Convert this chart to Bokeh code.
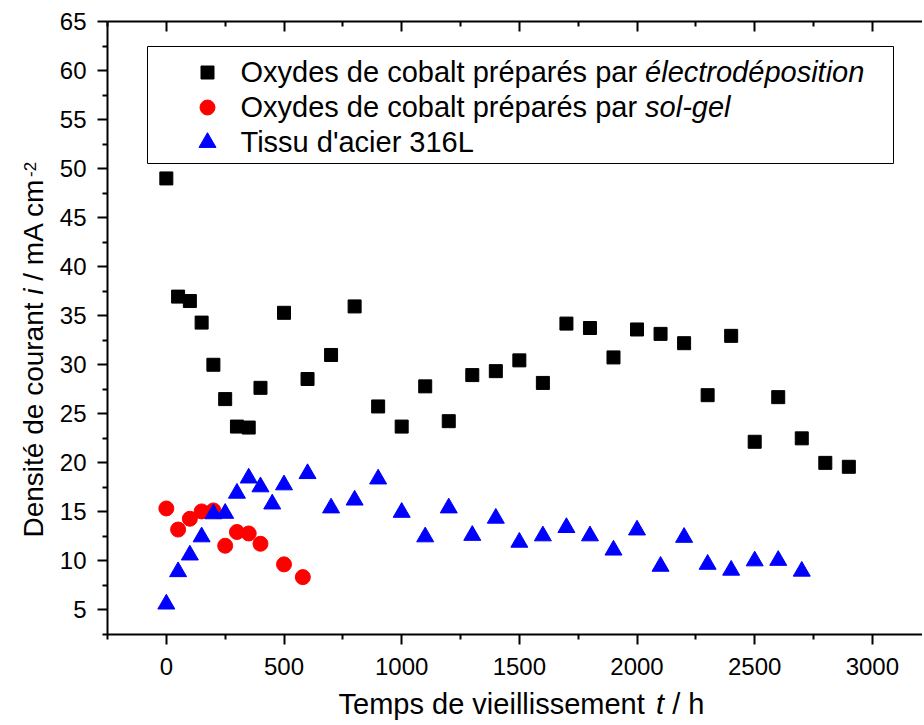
import math
from bokeh.plotting import figure
from bokeh.models import Range1d, LinearAxis, FixedTicker, Label, BoxAnnotation, CustomJSTickFormatter
from bokeh.layouts import column, row
from bokeh.embed import file_html
from bokeh.resources import INLINE

# ---------------- data ----------------
t_electro = [0, 50, 100, 150, 200, 250, 300, 350, 400, 500, 600, 700, 800, 900, 1000,
             1100, 1200, 1300, 1400, 1500, 1600, 1700, 1800, 1900, 2000, 2100, 2200,
             2300, 2400, 2500, 2600, 2700, 2800, 2900]
i_electro = [49.0, 36.95, 36.5, 34.3, 30.0, 26.5, 23.7, 23.6, 27.65, 35.3, 28.55, 31.0,
             35.95, 25.75, 23.7, 27.8, 24.25, 28.95, 29.35, 30.45, 28.15, 34.2, 33.75,
             30.75, 33.6, 33.15, 32.2, 26.9, 32.95, 22.15, 26.7, 22.5, 20.0, 19.6]

t_solgel = [0, 50, 100, 150, 200, 250, 300, 350, 400, 500, 580]
i_solgel = [15.35, 13.2, 14.3, 15.05, 15.15, 11.55, 12.95, 12.8, 11.75, 9.65, 8.35]

t_acier = [0, 50, 100, 150, 200, 250, 300, 350, 400, 450, 500, 600, 700, 800, 900, 1000,
           1100, 1200, 1300, 1400, 1500, 1600, 1700, 1800, 1900, 2000, 2100, 2200, 2300,
           2400, 2500, 2600, 2700]
i_acier = [5.6, 8.9, 10.6, 12.45, 14.8, 14.85, 16.9, 18.45, 17.55, 15.8, 17.75, 18.9,
           15.4, 16.2, 18.35, 14.95, 12.45, 15.4, 12.6, 14.35, 11.9, 12.55, 13.4, 12.55,
           11.1, 13.15, 9.45, 12.4, 9.65, 9.05, 10.0, 10.05, 8.95]

x_ticks = [0, 500, 1000, 1500, 2000, 2500, 3000]
x_minor = [-250, 250, 750, 1250, 1750, 2250, 2750]
y_ticks = [5, 10, 15, 20, 25, 30, 35, 40, 45, 50, 55, 60, 65]
y_minor = [2.5, 7.5, 12.5, 17.5, 22.5, 27.5, 32.5, 37.5, 42.5, 47.5, 52.5, 57.5, 62.5]

legend_parts = [
    ("Oxydes de cobalt préparés par ", "électrodéposition"),
    ("Oxydes de cobalt préparés par ", "sol-gel"),
    ("Tissu d'acier 316L", ""),
]
x_title = [("Temps de vieillissement ", "normal"), ("t", "italic"), (" / h", "normal")]
y_title = [("Densité de courant ", "normal"), ("i", "italic"), (" / mA cm", "normal")]
y_title_sup = "-2"

# ---------------- layout (page pixels) ----------------
FONT = "Liberation Sans"
TOTAL_W, TOTAL_H = 922, 723
YL_W = 50
PH = 682
FR_L, FR_T, FR_B = 107, 21, 634
FR_R = TOTAL_W
X0, X1 = -250, 3213
Y0, Y1 = 2.5, 65

CW = {' ': 278, '/': 278, '-': 333, "'": 191, '1': 556, '2': 556, '3': 556, '6': 556,
      'A': 667, 'D': 722, 'L': 556, 'O': 778, 'T': 611, 'a': 556, 'b': 556, 'c': 500,
      'd': 556, 'e': 556, 'é': 556, 'g': 556, 'h': 556, 'i': 222, 'l': 222, 'm': 833,
      'n': 556, 'o': 556, 'p': 556, 'r': 333, 's': 500, 't': 278, 'u': 556, 'v': 500,
      'x': 500, 'y': 500}


def tw(s, size):
    return sum(CW.get(c, 556) for c in s) / 1000.0 * size


def lead_w(s, size):
    return tw(" " * (len(s) - len(s.lstrip(" "))), size)


def xd(px):
    return X0 + (px - FR_L) / (FR_R - FR_L) * (X1 - X0)


def yd(py):
    return Y1 - (py - FR_T) / (FR_B - FR_T) * (Y1 - Y0)


y_range = Range1d(Y0, Y1)
p = figure(width=TOTAL_W - YL_W, height=PH, output_backend="svg", toolbar_location=None,
           x_range=Range1d(X0, X1), y_range=y_range,
           min_border_left=FR_L - YL_W, min_border_right=0,
           min_border_top=FR_T, min_border_bottom=PH - FR_B)
p.grid.visible = False
p.outline_line_color = None
p.background_fill_color = "white"
p.border_fill_color = "white"


def style_axis(ax, ticks, minor, outside, labels, standoff=8):
    ax.ticker = FixedTicker(ticks=ticks, minor_ticks=minor)
    ax.axis_line_width = 2
    ax.axis_line_color = "black"
    ax.major_tick_line_width = 2
    ax.minor_tick_line_width = 2
    ax.major_tick_line_color = "black"
    ax.minor_tick_line_color = "black"
    if outside:
        ax.major_tick_out, ax.major_tick_in = 10, 0
        ax.minor_tick_out, ax.minor_tick_in = 5, 0
    else:
        ax.major_tick_out, ax.major_tick_in = 0, 10
        ax.minor_tick_out, ax.minor_tick_in = 0, 5
    if labels:
        ax.major_label_text_font = FONT
        ax.major_label_text_font_size = "24px"
        ax.major_label_text_color = "black"
        ax.major_label_standoff = standoff
    else:
        ax.formatter = CustomJSTickFormatter(code="return ''")
        ax.major_label_text_font_size = "10px"
        ax.major_label_standoff = 0
    ax.axis_label = None


style_axis(p.xaxis[0], x_ticks, x_minor, True, True, standoff=13)
style_axis(p.yaxis[0], y_ticks, y_minor, True, True, standoff=11)
top_ax = LinearAxis()
style_axis(top_ax, x_ticks, x_minor, False, False)
p.add_layout(top_ax, "above")

# ---------------- data marks ----------------
p.scatter(t_electro, i_electro, marker="square", size=13, color="black")
p.scatter(t_solgel, i_solgel, marker="circle", size=15, color="red")
p.scatter(t_acier, i_acier, marker="triangle", size=17, color="blue")

# ---------------- legend ----------------
p.add_layout(BoxAnnotation(left=xd(147), right=xd(893), top=yd(46), bottom=yd(163),
                           fill_color=None, fill_alpha=0, line_color="black",
                           line_width=1, line_alpha=1))
LEG_SIZE = 29
markers = [("square", 13, "black"), ("circle", 15, "red"), ("triangle", 17, "blue")]
for k, ((normal, ital), (mk, sz, col)) in enumerate(zip(legend_parts, markers)):
    cy = 72 + 35 * k
    p.scatter([xd(207)], [yd(cy)], marker=mk, size=sz, color=col)
    p.add_layout(Label(x=xd(240), y=yd(cy - 1), text=normal.strip(), text_font=FONT,
                       text_font_size=f"{LEG_SIZE}px", text_baseline="middle",
                       text_align="left", text_color="black"))
    if ital:
        p.add_layout(Label(x=xd(240 + tw(normal, LEG_SIZE)), y=yd(cy - 1), text=ital,
                           text_font=FONT, text_font_style="italic",
                           text_font_size=f"{LEG_SIZE}px", text_baseline="middle",
                           text_align="left", text_color="black"))


def strip(w, h, yr):
    f = figure(width=w, height=h, output_backend="svg", toolbar_location=None,
               x_range=Range1d(0, w), y_range=yr,
               x_axis_location=None, y_axis_location=None,
               min_border_left=0, min_border_right=0, min_border_top=0, min_border_bottom=0)
    f.grid.visible = False
    f.outline_line_color = None
    f.background_fill_color = "white"
    f.border_fill_color = "white"
    return f


# ---------------- x axis title (strip below) ----------------
XLAB = 29
XL_H = TOTAL_H - PH
xl = strip(TOTAL_W, XL_H, Range1d(0, XL_H))
total = sum(tw(s, XLAB) for s, _ in x_title)
xs = 521 - total / 2
mid_y = TOTAL_H - 703
for s, st in x_title:
    xl.add_layout(Label(x=xs + lead_w(s, XLAB), y=mid_y, text=s.strip(), text_font=FONT,
                        text_font_style=st, text_font_size=f"{XLAB}px",
                        text_baseline="middle", text_align="left", text_color="black"))
    xs += tw(s, XLAB)

# ---------------- y axis title (strip left, rotated) ----------------
YLAB = 28
yl = strip(YL_W, PH, y_range)
ys = 537
for s, st in y_title:
    yl.add_layout(Label(x=33, y=yd(ys - lead_w(s, YLAB)), text=s.strip(), text_font=FONT,
                        text_font_style=st, text_font_size=f"{YLAB}px",
                        text_baseline="middle", text_align="left",
                        angle=math.pi / 2, text_color="black"))
    ys -= tw(s, YLAB)
yl.add_layout(Label(x=29, y=yd(ys - 1), text=y_title_sup, text_font=FONT,
                    text_font_size="17px", text_baseline="middle",
                    text_align="left", angle=math.pi / 2, text_color="black"))

layout = column(row(yl, p), xl)
open("out.html", "w").write(file_html(layout, INLINE))
